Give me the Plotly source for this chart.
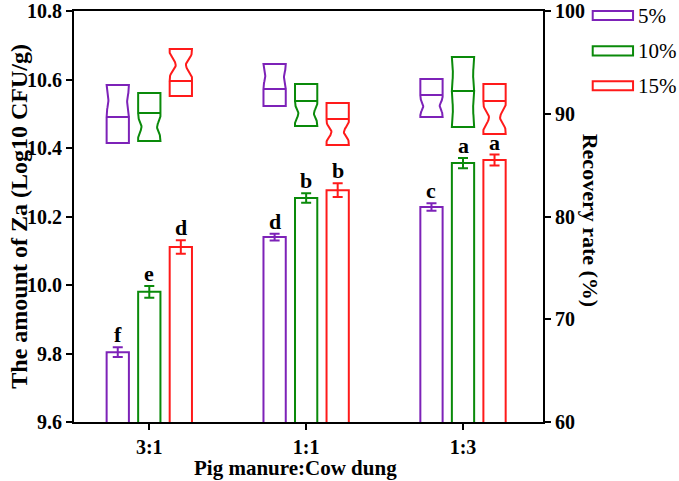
import numpy as np
import plotly.graph_objects as go

# ---------------- data ----------------
ratios = ["3:1", "1:1", "1:3"]
series = ["5%", "10%", "15%"]

# amount of Za (left axis), mean and error
za_mean = {
    "5%":  [9.804, 10.140, 10.228],
    "10%": [9.980, 10.254, 10.356],
    "15%": [10.111, 10.277, 10.365],
}
za_err = {
    "5%":  [0.014, 0.010, 0.011],
    "10%": [0.017, 0.014, 0.015],
    "15%": [0.020, 0.020, 0.016],
}
letters = {
    "5%":  ["f", "d", "c"],
    "10%": ["e", "b", "a"],
    "15%": ["d", "b", "a"],
}

# recovery rate (right axis) box statistics
rec_q1 = {
    "5%":  [87.15, 90.75, 89.68],
    "10%": [87.35, 88.81, 88.71],
    "15%": [91.73, 86.96, 88.03],
}
rec_med = {
    "5%":  [89.68, 92.41, 91.82],
    "10%": [90.07, 91.24, 92.21],
    "15%": [93.19, 89.49, 91.24],
}
rec_q3 = {
    "5%":  [92.80, 94.84, 93.38],
    "10%": [92.02, 92.90, 95.52],
    "15%": [96.30, 91.05, 92.90],
}

# ---------------- style ----------------
colors = {"5%": "#7D22B8", "10%": "#0A8A0A", "15%": "#FF1A1A"}
offsets = {"5%": -0.201, "10%": 0.0, "15%": 0.201}
bar_w = 0.142
# notch (waist) style per box: which half and depth fraction
waist_side = {
    "5%":  ["upper", "upper", "lower"],
    "10%": ["lower", "lower", "both"],
    "15%": ["upper", "lower", "lower"],
}
waist_depth = {
    "5%":  [0.08, 0.08, 0.13],
    "10%": [0.15, 0.15, 0.05],
    "15%": [0.27, 0.22, 0.25],
}

FONT = "Liberation Serif, Times New Roman, serif"

fig = go.Figure()

xpos = np.arange(len(ratios))

for s in series:
    fig.add_trace(go.Bar(
        x=xpos, y=za_mean[s], offset=offsets[s] - bar_w / 2, width=bar_w,
        marker=dict(color="rgba(0,0,0,0)", line=dict(color=colors[s], width=2)),
        error_y=dict(type="data", array=za_err[s], color=colors[s],
                     thickness=2, width=5),
        showlegend=False, yaxis="y",
    ))


def half_profile(y_from, y_to, depth, n=25):
    t = np.linspace(0, 1, n)
    ys = y_from + (y_to - y_from) * t
    ind = depth * np.sin(np.pi * np.clip((t - 0.1) / 0.8, 0, 1)) ** 2
    return ys, ind


for s in series:
    for i in range(len(ratios)):
        xc = xpos[i] + offsets[s]
        hw = bar_w / 2
        q1, m, q3 = rec_q1[s][i], rec_med[s][i], rec_q3[s][i]
        side = waist_side[s][i]
        d = waist_depth[s][i]
        du = d if side in ("upper", "both") else 0.0
        dl = d if side in ("lower", "both") else 0.0
        yl, il = half_profile(m, q1, dl)
        yu, iu = half_profile(m, q3, du)
        w = 2 * hw
        xs, ys = [], []
        xs += list(xc - hw + il * w); ys += list(yl)
        xs += list(xc + hw - il[::-1] * w); ys += list(yl[::-1])
        xs += [xc - hw]; ys += [m]
        xs += list(xc - hw + iu * w); ys += list(yu)
        xs += list(xc + hw - iu[::-1] * w); ys += list(yu[::-1])
        fig.add_trace(go.Scatter(
            x=xs, y=ys, mode="lines", yaxis="y2",
            line=dict(color=colors[s], width=2),
            showlegend=False, hoverinfo="skip",
        ))

# significance letters
for s in series:
    for i in range(len(ratios)):
        fig.add_annotation(
            x=xpos[i] + offsets[s], y=za_mean[s][i] + za_err[s][i],
            xref="x", yref="y", text=letters[s][i], showarrow=False,
            yanchor="bottom", yshift=-2,
            font=dict(family=FONT, size=22, color="black", weight="bold"),
        )

# manual legend
leg_y = [0.989, 0.903, 0.818]
for s, yc in zip(series, leg_y):
    fig.add_shape(type="rect", xref="paper", yref="paper",
                  x0=1.106, x1=1.192, y0=yc - 0.011, y1=yc + 0.011,
                  line=dict(color=colors[s], width=2), fillcolor="white")
    fig.add_annotation(xref="paper", yref="paper", x=1.199, y=yc,
                       text=s, showarrow=False, xanchor="left", yanchor="middle",
                       font=dict(family=FONT, size=21, color="black",
                                 weight="normal"))

# axis titles
fig.add_annotation(xref="paper", yref="paper", x=-0.119, y=0.5,
                   text="The amount of Za (Log10 CFU/g)", textangle=-90,
                   showarrow=False, xanchor="center", yanchor="middle",
                   font=dict(family=FONT, size=24, color="black", weight="bold"))
fig.add_annotation(xref="paper", yref="paper", x=1.10, y=0.49,
                   text="Recovery rate (%)", textangle=90,
                   showarrow=False, xanchor="center", yanchor="middle",
                   font=dict(family=FONT, size=22, color="black", weight="bold"))
fig.add_annotation(xref="paper", yref="paper", x=0.473, y=-0.112,
                   text="Pig manure:Cow dung",
                   showarrow=False, xanchor="center", yanchor="middle",
                   font=dict(family=FONT, size=21, color="black", weight="bold"))

tickfont = dict(family=FONT, size=20, color="black", weight="bold")

fig.update_layout(
    width=679, height=481,
    margin=dict(l=74, r=136, t=11, b=59),
    paper_bgcolor="white", plot_bgcolor="white",
    barmode="overlay",
    font=dict(family=FONT),
    xaxis=dict(
        range=[-0.48, 2.51], tickvals=list(xpos), ticktext=ratios,
        showline=True, linecolor="black", linewidth=2, mirror=True,
        ticks="outside", ticklen=6, tickwidth=2, tickcolor="black",
        showgrid=False, zeroline=False, tickfont=tickfont, automargin=False,
    ),
    yaxis=dict(
        range=[9.6, 10.8], tickvals=[9.6, 9.8, 10.0, 10.2, 10.4, 10.6, 10.8],
        tickformat=".1f",
        showline=True, linecolor="black", linewidth=2,
        ticks="outside", ticklen=6, tickwidth=2, tickcolor="black",
        showgrid=False, zeroline=False, tickfont=tickfont, automargin=False,
    ),
    yaxis2=dict(
        range=[60, 100], tickvals=[60, 70, 80, 90, 100],
        overlaying="y", side="right", anchor="x",
        showline=True, linecolor="black", linewidth=2,
        ticks="outside", ticklen=6, tickwidth=2, tickcolor="black",
        showgrid=False, zeroline=False, tickfont=tickfont, automargin=False,
    ),
)

fig.write_html(
    "out.html",
    config={"displayModeBar": False},
    post_script="document.body.style.margin='0';document.body.style.padding='0';",
)
